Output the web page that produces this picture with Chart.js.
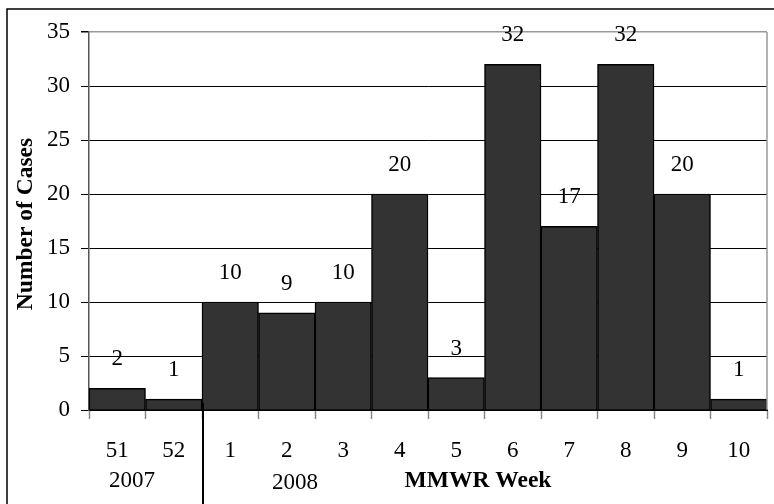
<!DOCTYPE html>
<html>
<head>
<meta charset="utf-8">
<script src="https://cdn.jsdelivr.net/npm/chart.js@4.4.0/dist/chart.umd.min.js"></script>
<style>
  html, body { margin: 0; padding: 0; background: #fff; }
  #wrap { width: 774px; height: 504px; position: relative; }
</style>
</head>
<body>
<div id="wrap"><canvas id="chartWeeks"></canvas></div>
<script>
const weeks  = ['51', '52', '1', '2', '3', '4', '5', '6', '7', '8', '9', '10'];
const cases  = [2, 1, 10, 9, 10, 20, 3, 32, 17, 32, 20, 1];
const years  = ['2007', '2008'];
const yTicks = [0, 5, 10, 15, 20, 25, 30, 35];

const serif = '"Liberation Serif", "Times New Roman", serif';
const barFill = '#333333';

// frame, axis titles, year labels, value labels
const decor = {
    id: 'decor',
    afterDatasetsDraw(chart) {
        const ctx = chart.ctx;
        const area = chart.chartArea;
        const xs = chart.scales.x;
        const meta = chart.getDatasetMeta(0);
        ctx.save();

        // right border of plot area
        ctx.strokeStyle = '#999';
        ctx.lineWidth = 1.5;
        ctx.beginPath();
        ctx.moveTo(area.right, area.top);
        ctx.lineTo(area.right, area.bottom);
        ctx.stroke();

        // outer frame (left + top)
        ctx.strokeStyle = '#000';
        ctx.lineWidth = 1.5;
        ctx.beginPath();
        ctx.moveTo(7, 504);
        ctx.lineTo(7, 9);
        ctx.lineTo(774, 9);
        ctx.stroke();

        // value labels
        ctx.fillStyle = '#000';
        ctx.font = '23px ' + serif;
        ctx.textAlign = 'center';
        ctx.textBaseline = 'middle';
        meta.data.forEach((bar, i) => {
            ctx.fillText(String(cases[i]), bar.x, bar.y - 29);
        });

        // year separator between week 52 and week 1
        const sepX = (xs.getPixelForValue(1) + xs.getPixelForValue(2)) / 2 + 1;
        ctx.lineWidth = 2;
        ctx.beginPath();
        ctx.moveTo(sepX, area.bottom - 7);
        ctx.lineTo(sepX, 504);
        ctx.stroke();

        // year labels and x title
        ctx.fillText(years[0], 132, 481);
        ctx.fillText(years[1], 295, 483);
        ctx.font = 'bold 23.5px ' + serif;
        ctx.fillText('MMWR Week', 478, 481);

        // y title
        ctx.translate(26, 224);
        ctx.rotate(-Math.PI / 2);
        ctx.fillText('Number of Cases', 0, 0);
        ctx.restore();
    }
};

new Chart(document.getElementById('chartWeeks'), {
    type: 'bar',
    data: {
        labels: weeks,
        datasets: [{
            data: cases,
            backgroundColor: barFill,
            borderColor: '#000',
            borderWidth: 1.5,
            barPercentage: 1,
            categoryPercentage: 1
        }]
    },
    options: {
        responsive: true,
        maintainAspectRatio: false,
        animation: false,
        layout: { padding: { top: 32, right: 7, left: 0, bottom: 0 } },
        plugins: { legend: { display: false }, tooltip: { enabled: false } },
        scales: {
            x: {
                afterFit: s => { s.height = 94; },
                grid: { drawOnChartArea: false, drawTicks: true, tickLength: 9, tickColor: '#888', tickWidth: 1.5 },
                border: { color: '#000', width: 2 },
                ticks: { color: '#000', font: { family: serif, size: 23 }, padding: 18, maxRotation: 0 }
            },
            y: {
                min: 0,
                max: 35,
                afterFit: s => { s.width = 89; },
                afterBuildTicks: s => { s.ticks = yTicks.map(v => ({ value: v })); },
                grid: {
                    color: c => (c.tick && c.tick.value === 35 ? '#999' : '#000'),
                    lineWidth: c => (c.tick && c.tick.value === 35 ? 1.5 : 1),
                    tickLength: 8,
                    tickColor: '#000'
                },
                border: { color: '#555', width: 1.5 },
                ticks: { color: '#000', font: { family: serif, size: 23 }, padding: 11 }
            }
        }
    },
    plugins: [decor]
});
</script>
</body>
</html>
